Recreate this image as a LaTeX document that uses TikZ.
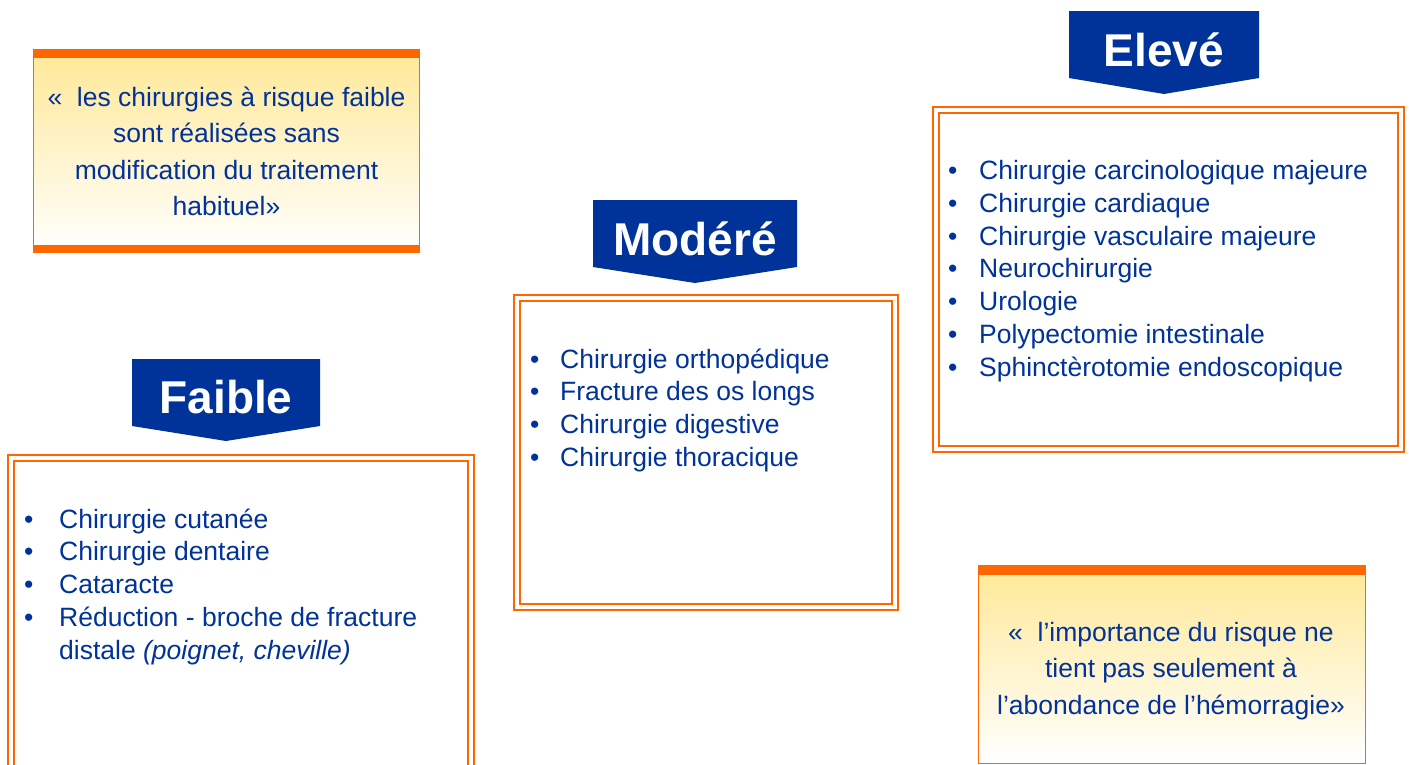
\documentclass[tikz,border=0pt]{standalone}
\usepackage{fontspec}
\setmainfont{Liberation Sans}
\usepackage{array}
\definecolor{navy}{RGB}{0,51,153}
\definecolor{orng}{RGB}{255,102,0}
\definecolor{pale}{RGB}{255,232,150}
\begin{document}
\begin{tikzpicture}[x=1pt,y=-1pt,
  dline/.style={draw=orng,line width=2pt},
  hdrshape/.style={fill=navy},
  hdrtext/.style={text=white,font=\fontsize{46}{50}\selectfont\bfseries,inner sep=0pt,anchor=base},
  lst/.style={text=navy,inner sep=0pt,anchor=base west,font=\fontsize{26.5}{32.8}\selectfont},
  qtext/.style={text=navy,inner sep=0pt,anchor=base,font=\fontsize{26.5}{36.6}\selectfont},
  qbar/.style={fill=orng},
  qside/.style={draw=orng,line width=1pt}]
\useasboundingbox (0,0) rectangle (1410,764);
\fill[white] (0,0) rectangle (1410,764);
\begin{scope}
\clip (0,0) rectangle (1410,764);

% ---- top-left quote box
\shade[top color=pale,bottom color=white] (33,49) rectangle (419,253);
\draw[qside] (33,49) -- (33,253) (419,49) -- (419,253);
\fill[qbar] (33,49) rectangle (419,57.5);
\fill[qbar] (33,244.5) rectangle (419,253);
\node[qtext] (q1) at (226.5,106) {\begin{tabular}[t]{@{}c@{}}«~ les chirurgies à risque faible\\ sont réalisées sans\\ modification du traitement\\ habituel»\end{tabular}};

% ---- bottom-right quote box
\shade[top color=pale,bottom color=white] (978,565) rectangle (1365,763);
\draw[qside] (978,565) -- (978,763) -- (1365,763) -- (1365,565);
\fill[qbar] (978,565) rectangle (1365,574.5);
\node[qtext] (q2) at (1171,641) {\begin{tabular}[t]{@{}c@{}}«~ l’importance du risque ne\\ tient pas seulement à\\ l’abondance de l’hémorragie»\end{tabular}};

% ---- Faible
\fill[hdrshape] (132,359) -- (320,359) -- (320,426) -- (226,441) -- (132,426) -- cycle;
\node[hdrtext] (hf) at (226,413) {Faible};
\draw[dline] (8,455) rectangle (474,800);
\draw[dline] (14,461) rectangle (468,800);
\node[lst] (lf) at (24,528) {\begin{tabular}[t]{@{}p{35pt}@{}l@{}}\textbullet & Chirurgie cutanée\\ \textbullet & Chirurgie dentaire\\ \textbullet & Cataracte\\ \textbullet & Réduction - broche de fracture\\ & distale \textit{(poignet, cheville)}\end{tabular}};

% ---- Modéré
\fill[hdrshape] (593,200) -- (797,200) -- (797,267) -- (695,283) -- (593,267) -- cycle;
\node[hdrtext] (hm) at (695,255) {Modéré};
\draw[dline] (514,295) rectangle (898,610);
\draw[dline] (520,301) rectangle (892,604);
\node[lst] (lm) at (530,368) {\begin{tabular}[t]{@{}p{30pt}@{}l@{}}\textbullet & Chirurgie orthopédique\\ \textbullet & Fracture des os longs\\ \textbullet & Chirurgie digestive\\ \textbullet & Chirurgie thoracique\end{tabular}};

% ---- Elevé
\fill[hdrshape] (1069,11) -- (1259,11) -- (1259,78) -- (1164,94) -- (1069,78) -- cycle;
\node[hdrtext] (he) at (1164,66) {Elevé};
\draw[dline] (933,107) rectangle (1404,452);
\draw[dline] (939,113) rectangle (1398,446);
\node[lst] (le) at (948,179.5) {\begin{tabular}[t]{@{}p{31pt}@{}l@{}}\textbullet & Chirurgie carcinologique majeure\\ \textbullet & Chirurgie cardiaque\\ \textbullet & Chirurgie vasculaire majeure\\ \textbullet & Neurochirurgie\\ \textbullet & Urologie\\ \textbullet & Polypectomie intestinale\\ \textbullet & Sphinctèrotomie endoscopique\end{tabular}};
\end{scope}
\end{tikzpicture}
\end{document}
